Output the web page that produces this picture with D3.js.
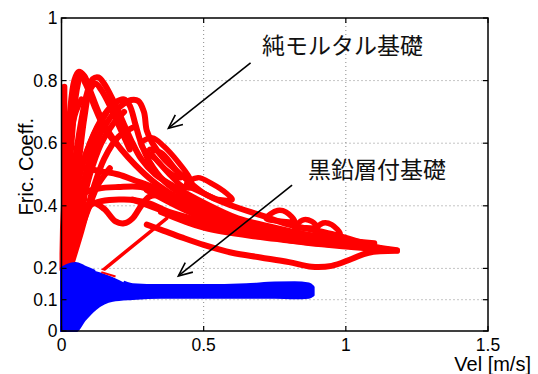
<!DOCTYPE html>
<html>
<head>
<meta charset="utf-8">
<script src="https://cdn.jsdelivr.net/npm/d3@7"></script>
<style>
  body { margin: 0; background: #fff; }
  .tick-label { font-family: "Liberation Sans", Arial, sans-serif; font-size: 17.5px; fill: #000; }
  .axis-title { font-family: "Liberation Sans", Arial, sans-serif; font-size: 20px; fill: #000; }
  .note { font-family: "Noto Sans CJK JP", sans-serif; font-size: 23px; fill: #111; }
</style>
</head>
<body>
<div id="chart"></div>
<script>
// tick values
var xTicks = [0, 0.5, 1, 1.5];
var yTicks = [0, 0.1, 0.2, 0.4, 0.6, 0.8, 1];
var xTickLabels = ["0", "0.5", "1", "1.5"];
var yTickLabels = ["0", "0.1", "0.2", "0.4", "0.6", "0.8", "1"];

// red series (pure mortar) : traced loops [vel, mu]
var redZeroBand = [[0.01, 0.2], [0.01, 0.78]];
var redPeak1 = [[0.005, 0.22], [0.015, 0.45], [0.03, 0.7], [0.045, 0.8], [0.06, 0.828], [0.08, 0.815], [0.1, 0.77], [0.13, 0.7], [0.17, 0.63], [0.21, 0.58], [0.26, 0.53], [0.32, 0.48], [0.4, 0.43], [0.5, 0.38], [0.62, 0.34], [0.75, 0.31], [0.9, 0.285], [1.05, 0.27], [1.15, 0.26]];
var redPeak1b = [[0.01, 0.22], [0.025, 0.5], [0.04, 0.72], [0.055, 0.8], [0.07, 0.81], [0.09, 0.78], [0.115, 0.72], [0.15, 0.65], [0.19, 0.6]];
var redPeak2 = [[0.01, 0.22], [0.03, 0.42], [0.06, 0.62], [0.09, 0.76], [0.11, 0.805], [0.13, 0.81], [0.15, 0.79], [0.18, 0.74], [0.22, 0.66], [0.25, 0.6], [0.28, 0.55], [0.33, 0.5], [0.4, 0.46], [0.5, 0.41], [0.62, 0.36], [0.75, 0.33], [0.9, 0.3], [1.05, 0.275], [1.18, 0.258]];
var redPeak2b = [[0.02, 0.22], [0.05, 0.45], [0.08, 0.68], [0.1, 0.77], [0.12, 0.79], [0.14, 0.77], [0.17, 0.72], [0.2, 0.66], [0.24, 0.58]];
var redPeak3a = [[0.01, 0.22], [0.05, 0.45], [0.1, 0.6], [0.15, 0.69], [0.19, 0.73], [0.22, 0.74], [0.24, 0.72], [0.26, 0.66], [0.28, 0.6], [0.31, 0.54], [0.36, 0.48], [0.45, 0.42], [0.55, 0.37], [0.7, 0.33], [0.85, 0.3], [1.0, 0.28], [1.12, 0.265]];
var redPeak3b = [[0.02, 0.22], [0.07, 0.45], [0.12, 0.6], [0.17, 0.68], [0.21, 0.72], [0.245, 0.738], [0.27, 0.735], [0.29, 0.7], [0.3, 0.64], [0.32, 0.6], [0.36, 0.55], [0.42, 0.5], [0.5, 0.44], [0.6, 0.4], [0.7, 0.37], [0.8, 0.34], [0.95, 0.31], [1.1, 0.27]];
var redRise1 = [[0.0, 0.2], [0.015, 0.5], [0.03, 0.62], [0.05, 0.7], [0.07, 0.74]];
var redRise2 = [[0.02, 0.2], [0.06, 0.35], [0.1, 0.5], [0.14, 0.6], [0.18, 0.66], [0.22, 0.7]];
var redRise3 = [[0.01, 0.2], [0.04, 0.38], [0.07, 0.52], [0.11, 0.62], [0.16, 0.7]];
var redRise4 = [[0.005, 0.2], [0.02, 0.4], [0.035, 0.6], [0.05, 0.75], [0.06, 0.8]];
var redRise5 = [[0.03, 0.2], [0.07, 0.32], [0.11, 0.45], [0.15, 0.55], [0.2, 0.62], [0.25, 0.65]];
var redRise6 = [[0.02, 0.2], [0.05, 0.28], [0.09, 0.38], [0.13, 0.47], [0.17, 0.52]];
var redLoop4 = [[0.28, 0.6], [0.32, 0.617], [0.36, 0.59], [0.41, 0.54], [0.45, 0.49], [0.46, 0.46], [0.43, 0.46], [0.38, 0.5], [0.33, 0.55], [0.29, 0.58]];
var redLoop4in = [[0.31, 0.58], [0.35, 0.57], [0.39, 0.53], [0.42, 0.49], [0.39, 0.5], [0.34, 0.54]];
var redLoop5 = [[0.44, 0.47], [0.48, 0.49], [0.53, 0.47], [0.58, 0.44], [0.6, 0.42], [0.55, 0.42], [0.5, 0.44]];
var redLoop6 = [[0.72, 0.36], [0.76, 0.385], [0.79, 0.38], [0.82, 0.35], [0.78, 0.35]];
var redLoop7 = [[0.82, 0.33], [0.85, 0.355], [0.88, 0.35], [0.9, 0.33], [0.86, 0.33]];
var redLoop8 = [[0.89, 0.32], [0.92, 0.345], [0.95, 0.34], [0.98, 0.31], [0.94, 0.31]];
var redMid1 = [[0.01, 0.25], [0.02, 0.4], [0.03, 0.52], [0.08, 0.52], [0.14, 0.51], [0.2, 0.5], [0.26, 0.48], [0.32, 0.46], [0.4, 0.42], [0.5, 0.38], [0.6, 0.35], [0.75, 0.32], [0.9, 0.3]];
var redMid2 = [[0.02, 0.25], [0.05, 0.38], [0.08, 0.44], [0.13, 0.455], [0.2, 0.46], [0.28, 0.46], [0.34, 0.44], [0.42, 0.4], [0.55, 0.36], [0.7, 0.33], [0.85, 0.31], [1.0, 0.29], [1.1, 0.28]];
var redDip = [[0.03, 0.28], [0.07, 0.38], [0.11, 0.41], [0.15, 0.39], [0.19, 0.35], [0.22, 0.344], [0.25, 0.36], [0.28, 0.4], [0.31, 0.43], [0.36, 0.43], [0.45, 0.39], [0.6, 0.34], [0.8, 0.3]];
var redMid4 = [[0.06, 0.3], [0.1, 0.4], [0.14, 0.415], [0.22, 0.42], [0.3, 0.41], [0.38, 0.38], [0.5, 0.35], [0.65, 0.32]];
var redBand1 = [[0.3, 0.45], [0.45, 0.38], [0.6, 0.33], [0.8, 0.29], [1.0, 0.27], [1.15, 0.26]];
var redBand2 = [[0.25, 0.42], [0.4, 0.37], [0.55, 0.33], [0.75, 0.3], [0.95, 0.28], [1.1, 0.262]];
var redBand3 = [[0.35, 0.38], [0.5, 0.33], [0.7, 0.3], [0.9, 0.28], [1.1, 0.265]];
var redLower = [[0.3, 0.34], [0.36, 0.32], [0.42, 0.3], [0.5, 0.275], [0.6, 0.25], [0.7, 0.235], [0.8, 0.22], [0.88, 0.205], [0.95, 0.208], [1.02, 0.23], [1.08, 0.25], [1.18, 0.256]];
var redFan1 = [[0.005, 0.2], [0.02, 0.32], [0.04, 0.45], [0.06, 0.52]];
var redFan2 = [[0.01, 0.2], [0.03, 0.3], [0.05, 0.36], [0.08, 0.42]];
var redFan3 = [[0.015, 0.2], [0.025, 0.26], [0.04, 0.3], [0.06, 0.33]];
var redDiagonal = [[0.14, 0.19], [0.37, 0.36]];

var redLines = [redZeroBand, redPeak1, redPeak1b, redPeak2, redPeak2b, redPeak3a, redPeak3b,
  redRise1, redRise2, redRise3, redRise4, redRise5, redRise6,
  redMid1, redMid2, redDip, redMid4, redBand1, redBand2, redBand3, redLower, redFan1, redFan2, redFan3];
var redLoops = [redLoop4, redLoop4in, redLoop5, redLoop6, redLoop7, redLoop8];

// blue series (graphite layer) : band outline
var blueVel = [0, 0.02, 0.05, 0.08, 0.12, 0.18, 0.25, 0.35, 0.5, 0.65, 0.75, 0.82, 0.87, 0.885];
var blueTop = [0.2, 0.21, 0.216, 0.205, 0.19, 0.172, 0.148, 0.145, 0.145, 0.148, 0.153, 0.154, 0.15, 0.14];
var blueBottom = [0.0, 0.0, 0.0, 0.035, 0.072, 0.098, 0.104, 0.108, 0.108, 0.108, 0.108, 0.106, 0.108, 0.115];
var blueGap = [[0.12, 0.196], [0.17, 0.181], [0.22, 0.16]];

// annotations
var notes = [
  { text: "純モルタル基礎", at: [0.705, 0.917], from: [0.665, 0.857], to: [0.376, 0.648] },
  { text: "黒鉛層付基礎", at: [0.867, 0.521], from: [0.811, 0.466], to: [0.411, 0.176] }
];

var W = 538, H = 374;
var x = d3.scaleLinear().domain([0, 1.5]).range([61.5, 488]);
var y = d3.scaleLinear().domain([0, 1]).range([331, 18]);

var svg = d3.select("#chart").append("svg")
  .attr("width", W)
  .attr("height", H);

svg.append("rect").attr("width", W).attr("height", H).attr("fill", "#fff");

svg.append("defs").append("clipPath").attr("id", "plot")
  .append("rect")
  .attr("x", x(0) - 2).attr("y", y(1))
  .attr("width", x(1.5) - x(0) + 2).attr("height", y(0) - y(1) + 1);

// grid
var grid = svg.append("g").attr("stroke", "#8a8a8a").attr("stroke-width", 1).attr("stroke-dasharray", "1,3");
grid.selectAll("line.gx").data(xTicks.slice(1, -1)).enter().append("line")
  .attr("x1", function(d) { return x(d); }).attr("x2", function(d) { return x(d); })
  .attr("y1", y(0)).attr("y2", y(1));
grid.selectAll("line.gy").data(yTicks.slice(1, -1)).enter().append("line")
  .attr("y1", function(d) { return y(d); }).attr("y2", function(d) { return y(d); })
  .attr("x1", x(0)).attr("x2", x(1.5));

var curveLine = d3.line()
  .x(function(d) { return x(d[0]); })
  .y(function(d) { return y(d[1]); })
  .curve(d3.curveCatmullRom);
var straight = d3.line()
  .x(function(d) { return x(d[0]); })
  .y(function(d) { return y(d[1]); });
var loop = d3.line()
  .x(function(d) { return x(d[0]); })
  .y(function(d) { return y(d[1]); })
  .curve(d3.curveCatmullRomClosed);

var data = svg.append("g").attr("clip-path", "url(#plot)");

data.selectAll("path.red").data(redLines).enter().append("path")
  .attr("d", curveLine)
  .attr("fill", "none").attr("stroke", "#ff0000").attr("stroke-width", 6)
  .attr("stroke-linecap", "round").attr("stroke-linejoin", "round");

data.selectAll("path.redloop").data(redLoops).enter().append("path")
  .attr("d", loop)
  .attr("fill", "none").attr("stroke", "#ff0000").attr("stroke-width", 5.5);

data.append("path").datum(redDiagonal)
  .attr("d", straight)
  .attr("fill", "none").attr("stroke", "#ff0000").attr("stroke-width", 3.5)
  .attr("stroke-linecap", "round");

// blue band
var blueData = blueVel.map(function(v, i) { return { v: v, t: blueTop[i], b: blueBottom[i] }; });
var area = d3.area()
  .x(function(d) { return x(d.v); })
  .y0(function(d) { return y(d.b); })
  .y1(function(d) { return y(d.t); })
  .curve(d3.curveMonotoneX);

data.append("path").datum(blueData)
  .attr("d", area)
  .attr("fill", "#0000ff").attr("stroke", "#0000ff").attr("stroke-width", 3)
  .attr("stroke-linejoin", "round");

data.append("path").datum(blueGap)
  .attr("d", curveLine)
  .attr("fill", "none").attr("stroke", "#fff").attr("stroke-width", 3);

data.append("path").datum([[0.14, 0.188], [0.19, 0.174]])
  .attr("d", straight)
  .attr("fill", "none").attr("stroke", "#ff0000").attr("stroke-width", 2);

// box and ticks
svg.append("rect")
  .attr("x", x(0)).attr("y", y(1))
  .attr("width", x(1.5) - x(0)).attr("height", y(0) - y(1))
  .attr("fill", "none").attr("stroke", "#000").attr("stroke-width", 1.5);

var ticks = svg.append("g").attr("stroke", "#000").attr("stroke-width", 1.2);
xTicks.forEach(function(t) {
  ticks.append("line").attr("x1", x(t)).attr("x2", x(t)).attr("y1", y(0)).attr("y2", y(0) - 5);
  ticks.append("line").attr("x1", x(t)).attr("x2", x(t)).attr("y1", y(1)).attr("y2", y(1) + 5);
});
yTicks.forEach(function(t) {
  ticks.append("line").attr("y1", y(t)).attr("y2", y(t)).attr("x1", x(0)).attr("x2", x(0) + 5);
  ticks.append("line").attr("y1", y(t)).attr("y2", y(t)).attr("x1", x(1.5)).attr("x2", x(1.5) - 5);
});

svg.selectAll("text.xl").data(xTicks).enter().append("text")
  .attr("class", "tick-label")
  .attr("x", function(d) { return x(d); })
  .attr("y", y(0) + 20)
  .attr("text-anchor", "middle")
  .text(function(d, i) { return xTickLabels[i]; });

svg.selectAll("text.yl").data(yTicks).enter().append("text")
  .attr("class", "tick-label")
  .attr("x", x(0) - 4)
  .attr("y", function(d) { return y(d) + 6; })
  .attr("text-anchor", "end")
  .text(function(d, i) { return yTickLabels[i]; });

svg.append("text").attr("class", "axis-title")
  .attr("x", 531).attr("y", 371)
  .attr("text-anchor", "end")
  .text("Vel [m/s]");

svg.append("text").attr("class", "axis-title")
  .attr("transform", "translate(33," + y(0.525) + ") rotate(-90)")
  .attr("text-anchor", "middle")
  .text("Fric. Coeff.");

// annotations with arrows
notes.forEach(function(n) {
  svg.append("text").attr("class", "note")
    .attr("x", x(n.at[0])).attr("y", y(n.at[1]))
    .attr("dominant-baseline", "central")
    .text(n.text);
  var x1 = x(n.from[0]), y1 = y(n.from[1]), x2 = x(n.to[0]), y2 = y(n.to[1]);
  svg.append("line")
    .attr("x1", x1).attr("y1", y1).attr("x2", x2).attr("y2", y2)
    .attr("stroke", "#000").attr("stroke-width", 1.6);
  var a = Math.atan2(y1 - y2, x1 - x2), len = 15, sp = 0.42;
  svg.append("path")
    .attr("d", "M" + (x2 + len * Math.cos(a - sp)) + "," + (y2 + len * Math.sin(a - sp)) +
      "L" + x2 + "," + y2 +
      "L" + (x2 + len * Math.cos(a + sp)) + "," + (y2 + len * Math.sin(a + sp)))
    .attr("fill", "none").attr("stroke", "#000").attr("stroke-width", 1.6);
});
</script>
</body>
</html>
